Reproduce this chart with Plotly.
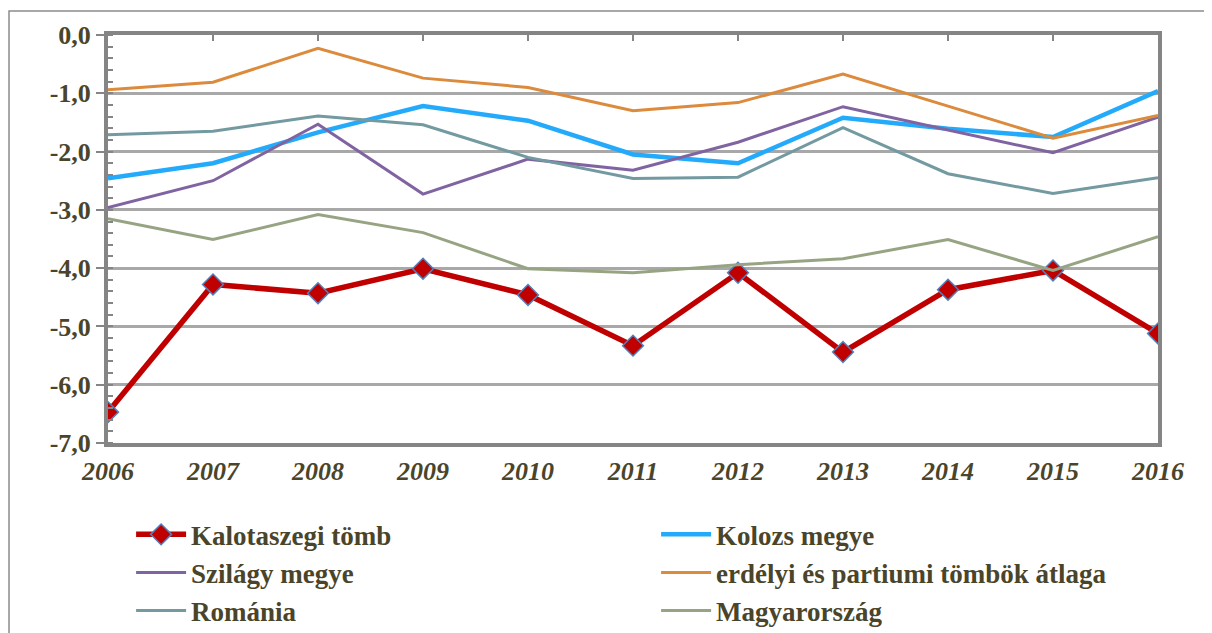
import plotly.graph_objects as go

years = [2006, 2007, 2008, 2009, 2010, 2011, 2012, 2013, 2014, 2015, 2016]

kalotaszeg = [-6.47, -4.28, -4.43, -4.01, -4.46, -5.33, -4.08, -5.44, -4.37, -4.04, -5.12]
kolozs = [-2.46, -2.20, -1.67, -1.22, -1.47, -2.05, -2.20, -1.42, -1.61, -1.75, -0.96]
szilagy = [-2.96, -2.50, -1.53, -2.73, -2.13, -2.32, -1.84, -1.23, -1.63, -2.02, -1.41]
erdelyi = [-0.94, -0.81, -0.23, -0.74, -0.90, -1.30, -1.16, -0.67, -1.22, -1.77, -1.38]
romania = [-1.71, -1.65, -1.39, -1.54, -2.10, -2.46, -2.44, -1.59, -2.38, -2.72, -2.45]
magyar = [-3.15, -3.51, -3.08, -3.39, -4.01, -4.08, -3.94, -3.84, -3.51, -4.04, -3.46]

y_tickvals = [0, -1, -2, -3, -4, -5, -6, -7]
y_ticktext = ["0,0", "-1,0", "-2,0", "-3,0", "-4,0", "-5,0", "-6,0", "-7,0"]
x_ticktext = [str(y) for y in years]

TXT = "#4A452A"
FONT = "Liberation Serif"
AXC = "#858585"
GRID = "#A8A8A8"

fig = go.Figure()

fig.add_trace(go.Scatter(
    x=years, y=kalotaszeg, name="Kalotaszegi tömb", mode="lines+markers",
    line=dict(color="#C00000", width=5.5),
    marker=dict(symbol="diamond", size=16, color="#C00000",
                line=dict(color="#4F81BD", width=1.5)),
))
fig.add_trace(go.Scatter(x=years, y=kolozs, name="Kolozs megye", mode="lines",
                         line=dict(color="#24AAFA", width=4.5)))
fig.add_trace(go.Scatter(x=years, y=szilagy, name="Szilágy megye", mode="lines",
                         line=dict(color="#8064A2", width=3)))
fig.add_trace(go.Scatter(x=years, y=erdelyi, name="erdélyi és partiumi tömbök átlaga",
                         mode="lines", line=dict(color="#DC8A3C", width=3)))
fig.add_trace(go.Scatter(x=years, y=romania, name="Románia", mode="lines",
                         line=dict(color="#7399A1", width=3)))
fig.add_trace(go.Scatter(x=years, y=magyar, name="Magyarország", mode="lines",
                         line=dict(color="#97A483", width=3)))
# invisible trace anchoring the top axis
fig.add_trace(go.Scatter(x=years, y=magyar, xaxis="x2", mode="lines",
                         line=dict(width=0), opacity=0, showlegend=False,
                         hoverinfo="skip"))

fig.update_layout(
    width=1204, height=625,
    margin=dict(l=100, r=54, t=27, b=190, autoexpand=False),
    paper_bgcolor="white", plot_bgcolor="white",
    font=dict(family=FONT, color=TXT),
    showlegend=True,
    xaxis=dict(
        range=[2006, 2016], tickmode="array", tickvals=years, ticktext=x_ticktext,
        ticks="", showgrid=False, zeroline=False,
        showline=True, linecolor=AXC, linewidth=4, mirror=True,
        tickfont=dict(family=FONT, size=26, color=TXT, weight="bold", style="italic"),
        ticklabelstandoff=2,
    ),
    xaxis2=dict(
        range=[2006, 2016], overlaying="x", side="top", tickmode="array",
        tickvals=years, ticks="inside", ticklen=6, tickwidth=2, tickcolor=AXC,
        showticklabels=False, showgrid=False, zeroline=False, showline=False,
    ),
    yaxis=dict(
        range=[-7, 0], tickmode="array", tickvals=y_tickvals, ticktext=y_ticktext,
        ticks="outside", ticklen=8, tickwidth=2, tickcolor=AXC,
        showgrid=True, gridcolor=GRID, gridwidth=2.5, zeroline=False,
        showline=True, linecolor=AXC, linewidth=4, mirror=True,
        tickfont=dict(family=FONT, size=26, color=TXT, weight="bold"),
        minor=dict(dtick=0.2, tick0=0, ticks="inside", ticklen=5, tickwidth=1.5,
                   tickcolor=AXC, showgrid=False),
    ),
    legend=dict(
        orientation="h", x=0.022, xanchor="left", y=-0.165, yanchor="top",
        entrywidth=460, entrywidthmode="pixels",
        font=dict(family=FONT, size=27, color=TXT, weight="bold"),
        itemwidth=50, tracegroupgap=0, bgcolor="rgba(0,0,0,0)",
    ),
    shapes=[dict(type="rect", xref="paper", yref="paper",
                 x0=(9 - 108) / 1050, x1=(1230 - 108) / 1050,
                 y0=(443 - 660) / 408, y1=(443 - 11) / 408,
                 line=dict(color="#8C8C8C", width=1.5), layer="below")],
)

fig.write_html("out.html")
